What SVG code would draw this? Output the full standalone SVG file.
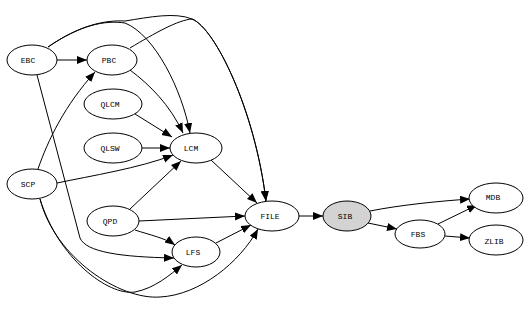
<svg xmlns="http://www.w3.org/2000/svg" width="528" height="310" viewBox="0 0 528 310">
<style>
.n ellipse{fill:#fff;stroke:#000;stroke-width:1}
.n text{font-family:"Liberation Mono","DejaVu Sans Mono",monospace;font-size:8px;text-anchor:middle;dominant-baseline:central;fill:#000}
#edges path{fill:none;stroke:#000;stroke-width:1;marker-end:url(#ah)}
</style>
<defs>
<marker id="ah" markerUnits="userSpaceOnUse" markerWidth="11" markerHeight="9" refX="10" refY="4" orient="auto">
<path d="M0,0 L10,4 L0,8 z" fill="#000"/>
</marker>
</defs>
<rect width="528" height="310" fill="#fff"/>
<g id="edges">
<path d="M57,60 L87,60"/>
<path d="M48,47 C80,25 105,20 125,23 C155,35 182,90 190,133"/>
<path d="M48,47 C80,25 105,20 125,21 C150,17 175,12 192,19 C215,28 255,110 266,201"/>
<path d="M130,70 C150,85 170,105 183,133"/>
<path d="M130,48 C155,33 178,20 192,19 C215,28 255,110 266,201"/>
<path d="M135,114 L172,137"/>
<path d="M141,148 L170,148"/>
<path d="M38,169 C48,140 65,105 95,72"/>
<path d="M57,183 C90,176 140,168 173,155"/>
<path d="M37,75 L80,238 C86,252 120,257 174,258"/>
<path d="M40,199 C58,258 108,296 135,292 C155,288 170,275 182,265"/>
<path d="M40,199 C55,258 120,300 160,297 C200,295 240,262 258,229"/>
<path d="M130,209 L181,161"/>
<path d="M139,221 L245,216"/>
<path d="M135,230 C150,235 165,238 175,245"/>
<path d="M216,243 L251,225"/>
<path d="M211,160 L257,203"/>
<path d="M299,216 L323,216"/>
<path d="M370,211 C400,205 440,201 470,199"/>
<path d="M368,223 L397,229"/>
<path d="M438,224 L477,205"/>
<path d="M445,236 L470,238"/>
</g>
<g id="EBC" class="n"><ellipse cx="32" cy="60" rx="25" ry="15"/><text x="28" y="60">EBC</text></g>
<g id="PBC" class="n"><ellipse cx="112" cy="60" rx="25" ry="15"/><text x="109" y="60">PBC</text></g>
<g id="QLCM" class="n"><ellipse cx="113" cy="104" rx="29" ry="15"/><text x="110" y="104">QLCM</text></g>
<g id="QLSW" class="n"><ellipse cx="113" cy="148" rx="29" ry="15"/><text x="110" y="148">QLSW</text></g>
<g id="LCM" class="n"><ellipse cx="196" cy="148" rx="26" ry="15"/><text x="191" y="148">LCM</text></g>
<g id="SCP" class="n"><ellipse cx="32" cy="184" rx="25" ry="15"/><text x="28" y="184">SCP</text></g>
<g id="QPD" class="n"><ellipse cx="113" cy="221" rx="26" ry="15"/><text x="110" y="221">QPD</text></g>
<g id="FILE" class="n"><ellipse cx="272" cy="216" rx="27" ry="15"/><text x="270" y="216">FILE</text></g>
<g id="LFS" class="n"><ellipse cx="196" cy="252" rx="24" ry="15"/><text x="193" y="252">LFS</text></g>
<g id="SIB" class="n"><ellipse cx="347" cy="216" rx="24" ry="15" style="fill:#d3d3d3"/><text x="345" y="216">SIB</text></g>
<g id="FBS" class="n"><ellipse cx="420" cy="234" rx="25" ry="14"/><text x="418" y="234">FBS</text></g>
<g id="MDB" class="n"><ellipse cx="496" cy="198" rx="27" ry="15"/><text x="493" y="197">MDB</text></g>
<g id="ZLIB" class="n"><ellipse cx="496" cy="240" rx="27" ry="15"/><text x="494" y="241">ZLIB</text></g>
</svg>
